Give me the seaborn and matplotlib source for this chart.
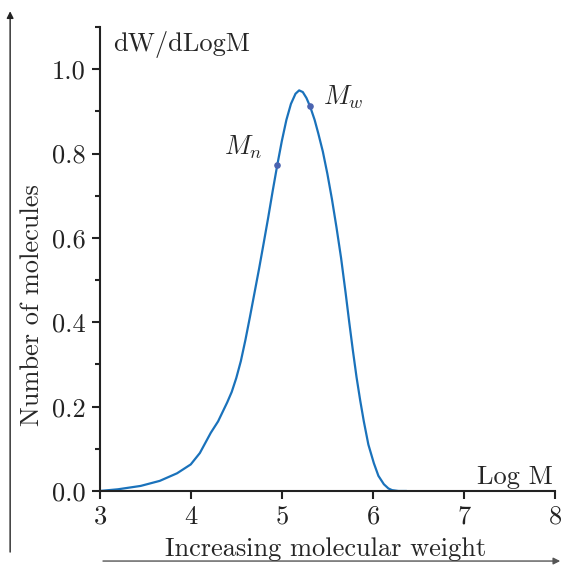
import numpy as np
import matplotlib
matplotlib.use("Agg")
import matplotlib.pyplot as plt
import seaborn as sns
from matplotlib.ticker import MultipleLocator

# molecular weight distribution
log_m = [3.00, 3.20, 3.45, 3.66, 3.85, 4.00, 4.10, 4.22, 4.30, 4.40, 4.45,
         4.50, 4.55, 4.60, 4.65, 4.70, 4.75, 4.80, 4.85, 4.90, 4.95, 5.00,
         5.05, 5.10, 5.15, 5.19, 5.23, 5.27, 5.31, 5.36, 5.40, 5.45, 5.50,
         5.55, 5.60, 5.65, 5.70, 5.74, 5.78, 5.82, 5.86, 5.90, 5.95, 6.01,
         6.06, 6.12, 6.17, 6.21, 6.28, 6.37]
dw = [0.000, 0.004, 0.012, 0.024, 0.042, 0.063, 0.090, 0.138, 0.165, 0.210, 0.235,
      0.268, 0.308, 0.358, 0.413, 0.470, 0.527, 0.587, 0.648, 0.712, 0.773, 0.830,
      0.880, 0.918, 0.942, 0.950, 0.946, 0.932, 0.912, 0.880, 0.848, 0.805, 0.752,
      0.692, 0.625, 0.553, 0.470, 0.400, 0.333, 0.270, 0.215, 0.165, 0.110, 0.066,
      0.036, 0.016, 0.006, 0.002, 0.000, 0.000]

avg_names = ["$M_n$", "$M_w$"]
avg_x = [4.95, 5.31]
avg_y = [0.773, 0.912]

sns.set_style("ticks")
plt.rcParams["font.family"] = ["cmr10", "DejaVu Serif"]
plt.rcParams["mathtext.fontset"] = "cm"
plt.rcParams["axes.formatter.use_mathtext"] = True

fs = 19

fig = plt.figure(figsize=(5.63, 5.65), dpi=100)
ax = fig.add_axes([0.177, 0.131, 0.809, 0.821])

sns.lineplot(x=log_m, y=dw, sort=False, estimator=None, color="#1a72bb",
             linewidth=1.6, ax=ax)
ax.scatter(avg_x, avg_y, s=14, color="#4a63b0", zorder=3)
ax.text(avg_x[0] - 0.16, avg_y[0] + 0.01, avg_names[0], fontsize=fs,
        ha="right", va="bottom")
ax.text(avg_x[1] + 0.14, avg_y[1] - 0.01, avg_names[1], fontsize=fs,
        ha="left", va="bottom")

ax.set_xlim(3, 8)
ax.set_ylim(0, 1.1)
ax.xaxis.set_major_locator(MultipleLocator(1))
ax.yaxis.set_major_locator(MultipleLocator(0.2))
ax.yaxis.set_minor_locator(MultipleLocator(0.1))
ax.yaxis.set_major_formatter(plt.FormatStrFormatter("%.1f"))
sns.despine(ax=ax)
for s in ["left", "bottom"]:
    ax.spines[s].set_linewidth(1.5)
    ax.spines[s].set_color("#222222")
ax.tick_params(which="major", length=6, width=1.5, labelsize=fs,
               colors="#222222", pad=4)
ax.tick_params(which="minor", length=3.5, width=1.5, colors="#222222")

ax.text(3.15, 1.09, "dW/dLogM", fontsize=fs, ha="left", va="top")
ax.text(7.98, 0.005, "Log M", fontsize=fs, ha="right", va="bottom")

# outer arrows and axis descriptions
fig.add_artist(matplotlib.patches.FancyArrowPatch(
    (0.018, 0.018), (0.018, 0.985), transform=fig.transFigure,
    arrowstyle="-|>", mutation_scale=10, color="#222222", lw=1))
fig.add_artist(matplotlib.patches.FancyArrowPatch(
    (0.178, 0.007), (1.0, 0.007), transform=fig.transFigure,
    arrowstyle="-|>", mutation_scale=10, color="#555555", lw=1))
fig.text(0.057, 0.46, "Number of molecules", rotation=90, fontsize=fs,
         ha="center", va="center")
fig.text(0.578, 0.028, "Increasing molecular weight", fontsize=fs,
         ha="center", va="center")

fig.savefig("out.png", dpi=100)
